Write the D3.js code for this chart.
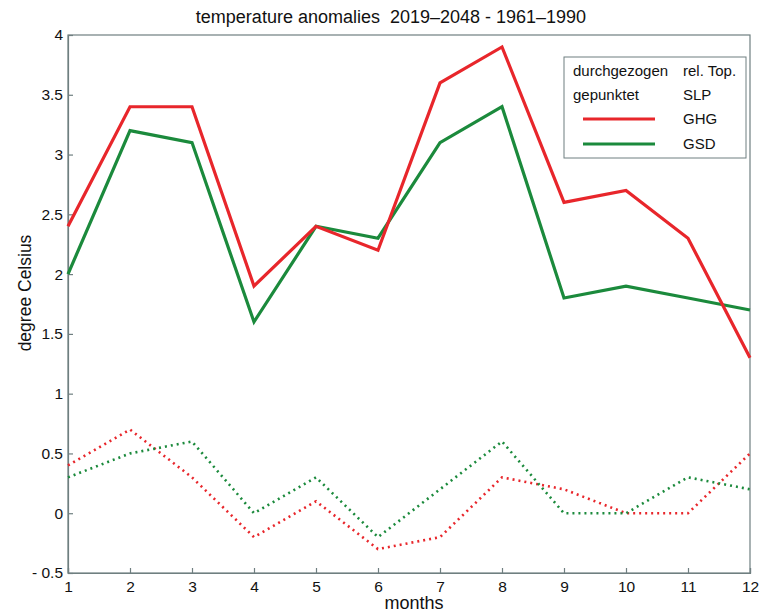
<!DOCTYPE html>
<html><head><meta charset="utf-8">
<script src="https://cdn.jsdelivr.net/npm/d3@7"></script>
<style>body{margin:0;background:#fff}svg{display:block;font-family:"Liberation Sans",Arial,sans-serif}</style>
</head><body>
<svg id="c" width="759" height="612"></svg>
<script>
const months = [1,2,3,4,5,6,7,8,9,10,11,12];
const ghgSolid = [2.4,3.4,3.4,1.9,2.4,2.2,3.6,3.9,2.6,2.7,2.3,1.3];
const gsdSolid = [2.0,3.2,3.1,1.6,2.4,2.3,3.1,3.4,1.8,1.9,1.8,1.7];
const ghgDotted = [0.4,0.7,0.3,-0.2,0.1,-0.3,-0.2,0.3,0.2,0.0,0.0,0.5];
const gsdDotted = [0.3,0.5,0.6,0.0,0.3,-0.2,0.2,0.6,0.0,0.0,0.3,0.2];
const yTicks = [-0.5,0,0.5,1,1.5,2,2.5,3,3.5,4];
const yTickLabels = ["- 0.5","0","0.5","1","1.5","2","2.5","3","3.5","4"];
const legendHeader = [["durchgezogen","rel. Top."],["gepunktet","SLP"]];
const legendSeries = ["GHG","GSD"];

const RED="#e8262b", GREEN="#1b8a3c", AX="#6f7f80";
const svg=d3.select("#c");
const L=68,R=750,T=35,B=573;
const x=d3.scaleLinear().domain([1,12]).range([L,R]);
const y=d3.scaleLinear().domain([-0.5,4]).range([B,T]);

svg.append("rect").attr("x",L).attr("y",T).attr("width",R-L).attr("height",B-T)
  .attr("fill","none").attr("stroke",AX).attr("stroke-width",1.2);

const xa=svg.append("g").attr("transform",`translate(0,${B})`)
  .call(d3.axisBottom(x).tickValues(months).tickFormat(d3.format("d")).tickSize(-5).tickPadding(5));
const ya=svg.append("g").attr("transform",`translate(${L},0)`)
  .call(d3.axisLeft(y).tickValues(yTicks).tickFormat((d,i)=>yTickLabels[i]).tickSize(-5).tickPadding(5));
[xa,ya].forEach(g=>{
  g.select(".domain").attr("stroke",AX).attr("stroke-width",1.2);
  g.selectAll(".tick line").attr("stroke",AX).attr("stroke-width",1.2);
  g.selectAll(".tick text").attr("fill","#111").style("font-size","15.5px");
});
xa.selectAll(".tick text").attr("dy","0.9em");

const line=d3.line().x((d,i)=>x(months[i])).y(d=>y(d));
function draw(data,color,dotted){
  const p=svg.append("path").datum(data).attr("d",line).attr("fill","none")
    .attr("stroke",color).attr("stroke-linejoin","miter");
  if(dotted) p.attr("stroke-width",2.6).attr("stroke-dasharray","2,4");
  else p.attr("stroke-width",3.2);
}
draw(ghgDotted,RED,true);
draw(gsdDotted,GREEN,true);
draw(gsdSolid,GREEN,false);
draw(ghgSolid,RED,false);

svg.append("text").attr("x",391).attr("y",23).attr("text-anchor","middle")
  .style("font-size","18px").style("white-space","pre").attr("fill","#111")
  .text("temperature anomalies  2019\u20132048 - 1961\u20131990");
svg.append("text").attr("x",414).attr("y",609).attr("text-anchor","middle")
  .style("font-size","18px").attr("fill","#111").text("months");
svg.append("text").attr("transform","translate(31,293) rotate(-90)").attr("text-anchor","middle")
  .style("font-size","17.5px").attr("fill","#111").text("degree Celsius");

const lg=svg.append("g");
lg.append("rect").attr("x",564).attr("y",57).attr("width",182).attr("height",101)
  .attr("fill","#fff").attr("stroke",AX).attr("stroke-width",1);
const rowsY=[76,100,124,149];
legendHeader.forEach((r,i)=>{
  lg.append("text").attr("x",573).attr("y",rowsY[i]).style("font-size","15px").attr("fill","#111").text(r[0]);
  lg.append("text").attr("x",683).attr("y",rowsY[i]).style("font-size","15px").attr("fill","#111").text(r[1]);
});
[RED,GREEN].forEach((c,i)=>{
  lg.append("line").attr("x1",583).attr("x2",655).attr("y1",rowsY[i+2]-5).attr("y2",rowsY[i+2]-5)
    .attr("stroke",c).attr("stroke-width",3.2);
  lg.append("text").attr("x",683).attr("y",rowsY[i+2]).style("font-size","15px").attr("fill","#111").text(legendSeries[i]);
});
</script>
</body></html>
